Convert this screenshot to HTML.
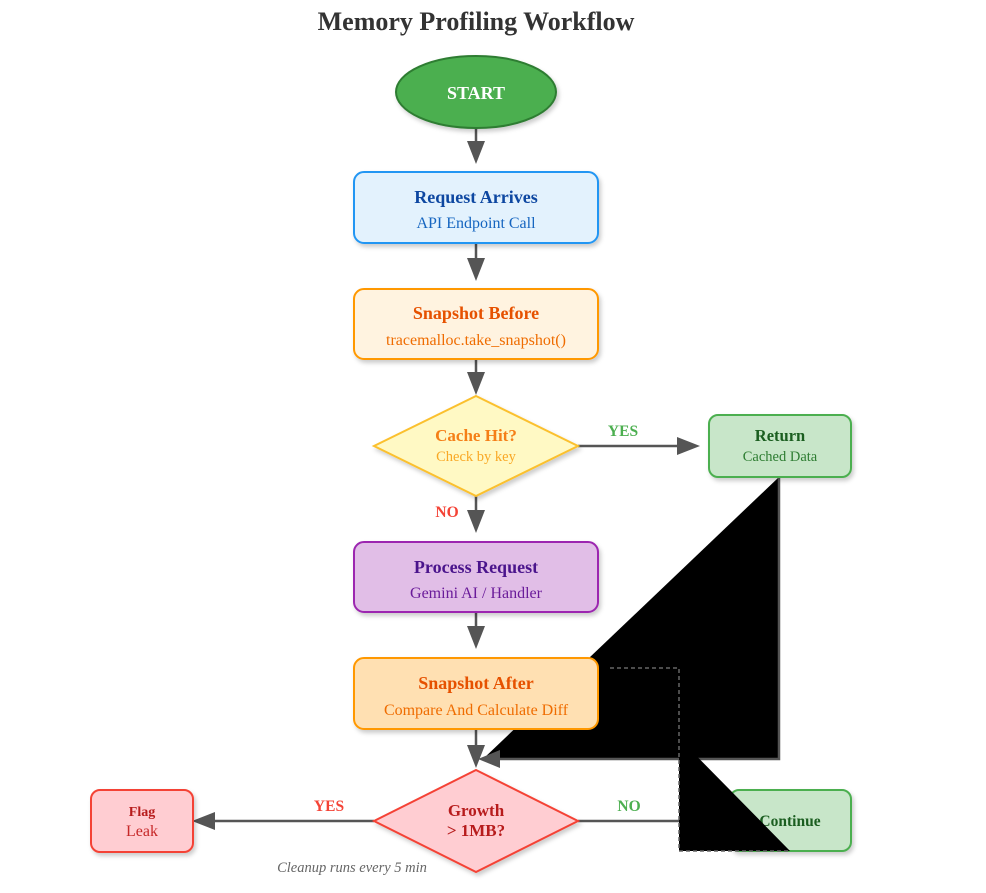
<!DOCTYPE html>
<html><head><meta charset="utf-8"><style>body{margin:0;background:#fff}svg{display:block}text{font-family:"Liberation Serif",serif}</style></head><body>
<svg width="986" height="893" viewBox="0 0 986 893">
<defs>
<filter id="s" x="-20%" y="-20%" width="140%" height="150%"><feDropShadow dx="2" dy="3" stdDeviation="2" flood-opacity="0.2"/></filter>
</defs>
<text x="476" y="30" text-anchor="middle" font-size="26" font-weight="bold" fill="#333">Memory Profiling Workflow</text>
<g stroke="#555" stroke-width="2.5" fill="none">
<line x1="476" y1="128" x2="476" y2="150"/><path d="M467,141L476,164L485,141z" fill="#555" stroke="none"/>
<line x1="476" y1="243" x2="476" y2="268"/><path d="M467,258L476,281L485,258z" fill="#555" stroke="none"/>
<line x1="476" y1="359" x2="476" y2="378"/><path d="M467,372L476,395L485,372z" fill="#555" stroke="none"/>
<line x1="476" y1="496" x2="476" y2="520"/><path d="M467,510L476,533L485,510z" fill="#555" stroke="none"/>
<line x1="476" y1="612" x2="476" y2="636"/><path d="M467,626L476,649L485,626z" fill="#555" stroke="none"/>
<line x1="476" y1="729" x2="476" y2="750"/><path d="M467,745L476,768L485,745z" fill="#555" stroke="none"/>
<line x1="578" y1="446" x2="685" y2="446"/><path d="M677,437L700,446L677,455z" fill="#555" stroke="none"/>
<line x1="374" y1="821" x2="210" y2="821"/><path d="M215,812L192,821L215,830z" fill="#555" stroke="none"/>
<line x1="578" y1="821" x2="680" y2="821"/>
</g>
<path d="M779,477L779,759L483,759z" fill="#000"/>
<path d="M779,477L779,759L483,759" fill="none" stroke="#555" stroke-width="2.5"/>
<path d="M500,750L478,759L500,768z" fill="#555"/>
<rect x="709" y="415" width="142" height="62" rx="9" fill="#c8e6c9" stroke="#4caf50" stroke-width="2" filter="url(#s)"/>
<text x="780" y="441" text-anchor="middle" font-size="16.5" font-weight="bold" fill="#1b5e20">Return</text>
<text x="780" y="461" text-anchor="middle" font-size="14.5" fill="#2e7d32">Cached Data</text>
<rect x="730" y="790" width="121" height="61" rx="9" fill="#c8e6c9" stroke="#4caf50" stroke-width="2" filter="url(#s)"/>
<text x="790" y="826" text-anchor="middle" font-size="15.5" font-weight="bold" fill="#1b5e20">Continue</text>
<path d="M610,668H679V851H790z" fill="#000"/>
<path d="M610,668H679V851H790" fill="none" stroke="#666" stroke-width="1.5" stroke-dasharray="4,3"/>
<ellipse cx="476" cy="92" rx="80" ry="36" fill="#4caf50" stroke="#2e7d32" stroke-width="2" filter="url(#s)"/>
<text x="476" y="99" text-anchor="middle" font-size="18" font-weight="bold" fill="#fff">START</text>
<rect x="354" y="172" width="244" height="71" rx="10" fill="#e3f2fd" stroke="#2196f3" stroke-width="2" filter="url(#s)"/>
<text x="476" y="203" text-anchor="middle" font-size="18" font-weight="bold" fill="#0d47a1">Request Arrives</text>
<text x="476" y="228" text-anchor="middle" font-size="16" fill="#1565c0">API Endpoint Call</text>
<rect x="354" y="289" width="244" height="70" rx="10" fill="#fff3e0" stroke="#ff9800" stroke-width="2" filter="url(#s)"/>
<text x="476" y="319" text-anchor="middle" font-size="18" font-weight="bold" fill="#e65100">Snapshot Before</text>
<text x="476" y="345" text-anchor="middle" font-size="16" fill="#ef6c00">tracemalloc.take_snapshot()</text>
<path d="M476,396L578,446L476,496L374,446z" fill="#fff9c4" stroke="#fbc02d" stroke-width="2" filter="url(#s)"/>
<text x="476" y="441" text-anchor="middle" font-size="17" font-weight="bold" fill="#f57f17">Cache Hit?</text>
<text x="476" y="461" text-anchor="middle" font-size="14.5" fill="#f9a825">Check by key</text>
<text x="623" y="436" text-anchor="middle" font-size="15.5" font-weight="bold" fill="#4caf50">YES</text>
<text x="447" y="517" text-anchor="middle" font-size="15.5" font-weight="bold" fill="#f44336">NO</text>
<rect x="354" y="542" width="244" height="70" rx="10" fill="#e1bee7" stroke="#9c27b0" stroke-width="2" filter="url(#s)"/>
<text x="476" y="573" text-anchor="middle" font-size="18" font-weight="bold" fill="#4a148c">Process Request</text>
<text x="476" y="598" text-anchor="middle" font-size="16" fill="#6a1b9a">Gemini AI / Handler</text>
<rect x="354" y="658" width="244" height="71" rx="10" fill="#ffe0b2" stroke="#ff9800" stroke-width="2" filter="url(#s)"/>
<text x="476" y="689" text-anchor="middle" font-size="18" font-weight="bold" fill="#e65100">Snapshot After</text>
<text x="476" y="715" text-anchor="middle" font-size="16" fill="#ef6c00">Compare And Calculate Diff</text>
<path d="M476,770L578,821L476,872L374,821z" fill="#ffcdd2" stroke="#f44336" stroke-width="2" filter="url(#s)"/>
<text x="476" y="816" text-anchor="middle" font-size="17" font-weight="bold" fill="#b71c1c">Growth</text>
<text x="476" y="836" text-anchor="middle" font-size="17" font-weight="bold" fill="#b71c1c">&gt; 1MB?</text>
<text x="329" y="811" text-anchor="middle" font-size="15.5" font-weight="bold" fill="#f44336">YES</text>
<text x="629" y="811" text-anchor="middle" font-size="15.5" font-weight="bold" fill="#4caf50">NO</text>
<rect x="91" y="790" width="102" height="62" rx="9" fill="#ffcdd2" stroke="#f44336" stroke-width="2" filter="url(#s)"/>
<text x="142" y="816" text-anchor="middle" font-size="14" font-weight="bold" fill="#b71c1c">Flag</text>
<text x="142" y="836" text-anchor="middle" font-size="16" fill="#c62828">Leak</text>
<text x="352" y="872" text-anchor="middle" font-size="14.5" font-style="italic" fill="#666">Cleanup runs every 5 min</text>
</svg>
</body></html>
